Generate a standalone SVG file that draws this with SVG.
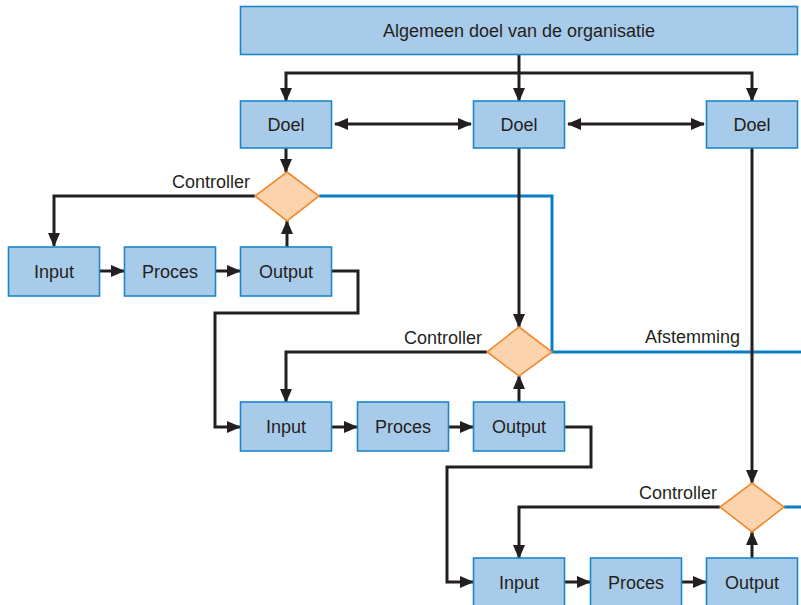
<svg xmlns="http://www.w3.org/2000/svg" width="801" height="605" viewBox="0 0 801 605">
<style>
.box{fill:#a9cbea;stroke:#1b87c9;stroke-width:1.6}
.dia{fill:#fdd3ae;stroke:#f18a2d;stroke-width:1.6}
.t{font-family:"Liberation Sans",Arial,sans-serif;font-size:18px;fill:#231f20;text-anchor:middle}
.lbl{font-family:"Liberation Sans",Arial,sans-serif;font-size:18px;fill:#231f20;text-anchor:end}
.c{fill:none;stroke:#231f20;stroke-width:3}
.b{fill:none;stroke:#0b7dc5;stroke-width:3}
</style>
<defs>
<marker id="ah" markerUnits="userSpaceOnUse" markerWidth="14" markerHeight="12" refX="13" refY="6" orient="auto-start-reverse" viewBox="0 0 14 12">
<path d="M0,0 L14,6 L0,12 Z" fill="#231f20"/>
</marker>
</defs>
<rect width="801" height="605" fill="#ffffff"/>
<g id="connectors">
<path class="b" d="M319,196 H552 V352 H801"/>
<path class="b" d="M784,507 H801"/>
<path class="c" d="M519,55 V101" marker-end="url(#ah)"/>
<path class="c" d="M519,73 H286 V101" marker-end="url(#ah)"/>
<path class="c" d="M519,73 H752 V101" marker-end="url(#ah)"/>
<path class="c" d="M335,124 H471" marker-start="url(#ah)" marker-end="url(#ah)"/>
<path class="c" d="M568,124 H704" marker-start="url(#ah)" marker-end="url(#ah)"/>
<path class="c" d="M286,148 V172" marker-end="url(#ah)"/>
<path class="c" d="M255,196 H54 V246" marker-end="url(#ah)"/>
<path class="c" d="M100,271 H124" marker-end="url(#ah)"/>
<path class="c" d="M216,271 H240" marker-end="url(#ah)"/>
<path class="c" d="M287,247 V221" marker-end="url(#ah)"/>
<path class="c" d="M332,271 H358 V313 H215 V427 H240" marker-end="url(#ah)"/>
<path class="c" d="M519,148 V327" marker-end="url(#ah)"/>
<path class="c" d="M487,352 H286 V402" marker-end="url(#ah)"/>
<path class="c" d="M332,427 H357" marker-end="url(#ah)"/>
<path class="c" d="M449,427 H473" marker-end="url(#ah)"/>
<path class="c" d="M519,402 V376" marker-end="url(#ah)"/>
<path class="c" d="M565,427 H591 V467 H447 V582 H473" marker-end="url(#ah)"/>
<path class="c" d="M752,148 V483" marker-end="url(#ah)"/>
<path class="c" d="M720,507 H519 V558" marker-end="url(#ah)"/>
<path class="c" d="M565,582 H590" marker-end="url(#ah)"/>
<path class="c" d="M682,582 H706" marker-end="url(#ah)"/>
<path class="c" d="M752,558 V532" marker-end="url(#ah)"/>
</g>
<g id="top"><rect class="box" x="240.5" y="6.5" width="557" height="48"/><text class="t" x="519" y="37">Algemeen doel van de organisatie</text></g>
<g id="doel1"><rect class="box" x="240.5" y="101" width="91" height="47"/><text class="t" x="286" y="131">Doel</text></g>
<g id="doel2"><rect class="box" x="473.5" y="101" width="91" height="47"/><text class="t" x="519" y="131">Doel</text></g>
<g id="doel3"><rect class="box" x="706.5" y="101" width="91" height="47"/><text class="t" x="752" y="131">Doel</text></g>
<g id="ctrl1"><polygon class="dia" points="287,172 319,196 287,221 255,196"/><text class="lbl" x="250" y="188">Controller</text></g>
<g id="ctrl2"><polygon class="dia" points="519,327 552,352 519,376 487,352"/><text class="lbl" x="482" y="344">Controller</text></g>
<g id="ctrl3"><polygon class="dia" points="752,483 784,507 752,532 720,507"/><text class="lbl" x="717" y="499">Controller</text></g>
<g id="afstemming"><text class="lbl" x="740" y="343">Afstemming</text></g>
<g id="input1"><rect class="box" x="8.5" y="247" width="91" height="49"/><text class="t" x="54" y="278">Input</text></g>
<g id="proces1"><rect class="box" x="124.5" y="247" width="91" height="49"/><text class="t" x="170" y="278">Proces</text></g>
<g id="output1"><rect class="box" x="240.5" y="247" width="91" height="49"/><text class="t" x="286" y="278">Output</text></g>
<g id="input2"><rect class="box" x="240.5" y="402" width="91" height="49"/><text class="t" x="286" y="433">Input</text></g>
<g id="proces2"><rect class="box" x="357.5" y="402" width="91" height="49"/><text class="t" x="403" y="433">Proces</text></g>
<g id="output2"><rect class="box" x="473.5" y="402" width="91" height="49"/><text class="t" x="519" y="433">Output</text></g>
<g id="input3"><rect class="box" x="473.5" y="558" width="91" height="49"/><text class="t" x="519" y="589">Input</text></g>
<g id="proces3"><rect class="box" x="590.5" y="558" width="91" height="49"/><text class="t" x="636" y="589">Proces</text></g>
<g id="output3"><rect class="box" x="706.5" y="558" width="91" height="49"/><text class="t" x="752" y="589">Output</text></g>
</svg>
